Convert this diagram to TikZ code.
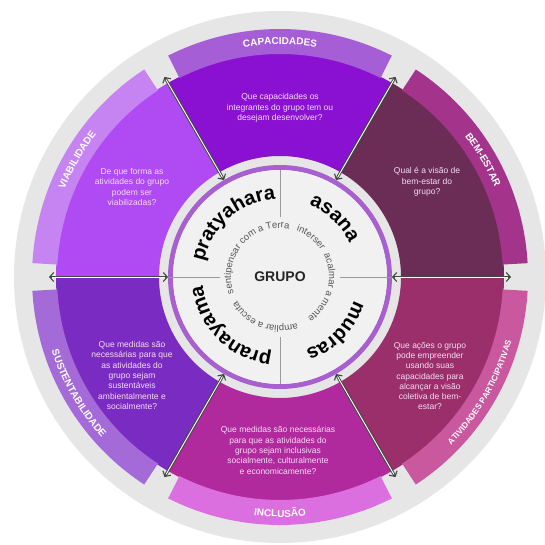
\documentclass[tikz,border=0pt]{standalone}
\usepackage{fontspec}
\setmainfont{Liberation Sans}
\usetikzlibrary{decorations.text,arrows.meta}
\definecolor{bggray}{HTML}{E6E6E6}
\definecolor{diskc}{HTML}{F1F1F1}
\definecolor{ringc}{HTML}{A85FD0}
\definecolor{linec}{HTML}{9A9A9A}
\definecolor{arrowc}{HTML}{3E4A3F}
\definecolor{qcol}{HTML}{F4DDF4}
\definecolor{ringtext}{HTML}{555555}
\definecolor{capM}{HTML}{8A11D1}
\definecolor{capB}{HTML}{A65ED6}
\definecolor{bemM}{HTML}{6B2D56}
\definecolor{bemB}{HTML}{A3338B}
\definecolor{atiM}{HTML}{9B2F6B}
\definecolor{atiB}{HTML}{C9589E}
\definecolor{incM}{HTML}{B12A9D}
\definecolor{incB}{HTML}{DC6FDF}
\definecolor{susM}{HTML}{7A2CC2}
\definecolor{susB}{HTML}{A46AD8}
\definecolor{viaM}{HTML}{B04AF2}
\definecolor{viaB}{HTML}{C683F2}
\newcommand\myarctext[6]{\path[decorate,decoration={text along path,text align=center,text color=#5,text={|#4|#6}}] (#2:#1) arc[start angle=#2,end angle=#3,radius=#1];}
\tikzset{
  qtext/.style={text=qcol,align=center,font=\fontsize{8.5}{10.3}\selectfont,inner sep=0pt},
  arrdark/.style={draw=arrowc,line width=2.8pt,{Straight Barb[length=4pt,width=9pt,line width=1.1pt]}-{Straight Barb[length=4pt,width=9pt,line width=1.1pt]}},
  arrlight/.style={draw=white,line width=0.9pt,shorten <=3pt,shorten >=3pt},
  quadline/.style={draw=linec,line width=0.6pt}
}
\begin{document}
\begin{tikzpicture}[x=1pt,y=1pt]
\useasboundingbox (-280,-268) rectangle (264,277);
\fill[white] (-280,-268) rectangle (264,277);
\fill[bggray] (0,0) circle (266);
% sectors and bands
\foreach \a/\b/\m/\bb in {60/120/capM/capB,120/180/viaM/viaB,180/240/susM/susB,240/300/incM/incB,300/360/atiM/atiB,0/60/bemM/bemB}{
  \fill[\m] (\a:121) arc[start angle=\a,end angle=\b,radius=121] -- (\b:224) arc[start angle=\b,end angle=\a,radius=224] -- cycle;
  \fill[\bb] ({\a+3.2}:223) arc[start angle=\a+3.2,end angle=\b-3.2,radius=223] -- ({\b-3.2}:248) arc[start angle=\b-3.2,end angle=\a+3.2,radius=248] -- cycle;
}
% centre ring and disk
\draw[ringc,line width=5pt] (0,0) circle (109.5);
\fill[diskc] (0,0) circle (107);
\draw[quadline] (0:60) -- (0:112) (180:60) -- (180:112) (90:60) -- (90:107) (270:60) -- (270:107);
% arrows
\foreach \t in {0,60,120,180,240,300}{
  \coordinate (in\t) at (\t:112);
  \coordinate (out\t) at (\t:231);
  \draw[arrdark] (in\t) -- (out\t);
  \draw[arrlight] (in\t) -- (out\t);
}
% band labels
\myarctext{232.5}{150}{30}{\bfseries\fontsize{10}{10}\selectfont}{white}{CAPACIDADES}
\myarctext{232.5}{90}{-30}{\bfseries\fontsize{10}{10}\selectfont}{white}{BEM-ESTAR}
\myarctext{232.5}{210}{90}{\bfseries\fontsize{10}{10}\selectfont}{white}{VIABILIDADE}
\myarctext{240}{150}{270}{\bfseries\fontsize{10}{10}\selectfont}{white}{SUSTENTABILIDADE}
\myarctext{240}{210}{330}{\bfseries\fontsize{10}{10}\selectfont}{white}{INCLUSÃO}
\myarctext{240}{270}{390}{\bfseries\fontsize{8.3}{8.3}\selectfont}{white}{ATIVIDADES PARTICIPATIVAS}
% questions
\node[qtext] (q1) at (0,169) {Que capacidades os\\integrantes do grupo tem ou\\desejam desenvolver?};
\node[qtext] (q2) at (147,95) {Qual é a visão de\\bem-estar do\\grupo?};
\node[qtext] (q3) at (150,-99) {Que ações o grupo\\pode empreender\\usando suas\\capacidades para\\alcançar a visão\\coletiva de bem-\\estar?};
\node[qtext] (q4) at (-2,-173.5) {Que medidas são necessárias\\para que as atividades do\\grupo sejam inclusivas\\socialmente, culturalmente\\e economicamente?};
\node[qtext] (q5) at (-148,-98.5) {Que medidas são\\necessárias para que\\as atividades do\\grupo sejam\\sustentáveis\\ambientalmente e\\socialmente?};
\node[qtext] (q6) at (-148,90) {De que forma as\\atividades do grupo\\podem ser\\viabilizadas?};
% centre texts
\node[font=\bfseries\fontsize{14}{14}\selectfont,text=black!85] (g) at (0,0) {GRUPO};
\myarctext{77.5}{201}{61}{\bfseries\fontsize{20}{20}\selectfont}{black}{pratyahara}
\myarctext{77.5}{117}{-23}{\bfseries\fontsize{20}{20}\selectfont}{black}{asana}
\myarctext{77.5}{26}{-114}{\bfseries\fontsize{20}{20}\selectfont}{black}{mudras}
\myarctext{77.5}{295}{155}{\bfseries\fontsize{20}{20}\selectfont}{black}{pranayama}
\myarctext{49}{209.5}{69.5}{\fontsize{9.5}{9.5}\selectfont}{ringtext}{sentipensar com a Terra}
\myarctext{49}{122}{-18}{\fontsize{9.5}{9.5}\selectfont}{ringtext}{interser}
\myarctext{49}{55.5}{-84.5}{\fontsize{9.5}{9.5}\selectfont}{ringtext}{acalmar a mente}
\myarctext{49}{-40.5}{-180.5}{\fontsize{9.5}{9.5}\selectfont}{ringtext}{ampliar a escuta}
\end{tikzpicture}
\end{document}
